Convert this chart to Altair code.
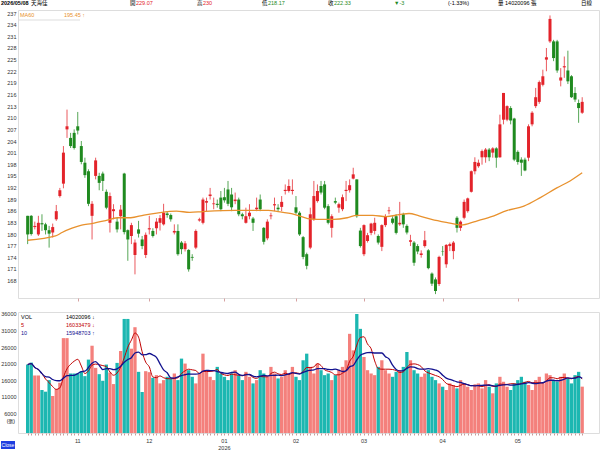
import altair as alt
import pandas as pd

FONT = "Liberation Sans, Noto Sans CJK TC"

opens = [184.7, 184.7, 181.8, 179.9, 182.8, 182.5, 181.0, 180.4, 183.8, 189.8,
         193.0, 207.0, 204.8, 206.1, 207.8, 202.7, 198.4, 196.2, 184.7, 195.0,
         195.0, 195.6, 190.9, 182.9, 185.9, 183.2, 184.6, 195.6, 181.0, 179.5,
         174.6, 181.2, 178.6, 174.6, 181.2, 180.8, 181.5, 182.9, 182.5, 185.3,
         184.9, 180.4, 180.8, 177.8, 176.1, 175.9, 174.1, 176.5, 183.5, 182.9,
         188.1, 189.8, 187.7, 187.8, 189.4, 189.5, 191.5, 190.2, 188.5, 188.9,
         185.1, 182.9, 184.6, 184.0, 186.4, 188.9, 181.6, 178.9, 184.6, 187.4,
         186.8, 187.0, 191.1, 191.1, 191.1, 186.9, 185.5, 179.2, 174.8, 176.5,
         183.8, 188.5, 192.4, 192.8, 187.2, 181.6, 188.5, 186.8, 186.4, 191.1,
         191.3, 194.3, 194.1, 180.9, 174.8, 178.2, 180.3, 180.8, 179.5, 176.7,
         182.3, 185.9, 184.0, 184.6, 182.5, 185.1, 182.1, 178.0, 177.8, 176.9,
         174.6, 176.9, 175.8, 169.8, 168.3, 167.1, 175.6, 172.2, 176.9, 175.6,
         184.2, 181.6, 184.2, 185.9, 190.9, 196.2, 197.5, 199.8, 199.8, 201.8,
         201.0, 202.1, 199.8, 209.5, 209.5, 212.5, 209.8, 201.2, 199.2, 199.2,
         199.7, 208.3, 213.0, 214.1, 218.5, 225.0, 229.7, 229.7, 229.7, 219.6,
         223.0, 222.2, 220.7, 216.4, 213.8, 211.3]
highs = [184.7, 184.9, 183.2, 184.7, 185.1, 182.9, 182.1, 182.7, 187.5, 191.9,
         202.7, 212.1, 206.1, 207.0, 211.5, 204.0, 199.7, 196.7, 188.5, 199.7,
         195.8, 196.1, 191.5, 190.7, 187.7, 184.2, 187.5, 195.8, 181.2, 182.9,
         178.6, 183.4, 179.5, 180.4, 184.7, 181.5, 184.1, 184.9, 187.8, 185.9,
         185.3, 182.5, 182.5, 178.2, 178.2, 176.1, 174.8, 181.2, 184.2, 189.4,
         189.4, 191.9, 189.4, 188.9, 191.1, 191.9, 193.7, 191.9, 190.7, 189.4,
         185.5, 186.8, 187.7, 184.4, 189.4, 190.2, 181.8, 183.8, 185.5, 189.4,
         187.7, 189.8, 192.8, 194.1, 194.1, 189.8, 185.9, 179.5, 175.2, 186.8,
         193.7, 192.8, 193.7, 193.7, 187.7, 185.1, 189.4, 188.1, 190.2, 193.7,
         194.1, 197.1, 194.1, 181.6, 182.5, 180.3, 182.9, 184.2, 179.9, 182.5,
         185.1, 187.0, 184.6, 185.1, 188.3, 185.5, 182.5, 179.8, 178.2, 177.4,
         175.8, 180.8, 176.1, 170.1, 168.8, 174.4, 176.9, 177.4, 177.8, 178.2,
         184.6, 183.5, 188.9, 189.4, 196.4, 199.8, 199.2, 201.8, 202.2, 202.2,
         202.4, 202.4, 210.8, 216.4, 213.2, 213.0, 210.0, 201.6, 199.8, 199.7,
         208.3, 211.7, 217.7, 219.6, 222.4, 228.0, 236.4, 230.1, 230.1, 222.8,
         225.8, 227.3, 221.0, 217.9, 214.7, 215.3]
lows = [177.4, 179.6, 181.2, 179.5, 180.8, 179.9, 176.5, 179.1, 183.4, 189.4,
        191.8, 204.8, 202.2, 201.8, 205.7, 198.0, 194.5, 187.2, 178.6, 194.1,
        191.3, 191.1, 186.4, 180.4, 183.8, 180.4, 181.2, 179.9, 173.1, 177.4,
        169.6, 179.1, 176.1, 173.8, 179.9, 179.1, 179.9, 180.9, 182.2, 184.2,
        183.2, 179.9, 174.4, 174.8, 175.5, 170.3, 173.1, 176.1, 183.2, 182.5,
        185.9, 188.9, 186.4, 186.8, 185.9, 188.1, 187.2, 185.9, 187.7, 184.6,
        183.8, 182.7, 183.8, 180.8, 185.9, 185.9, 177.3, 178.4, 183.8, 185.9,
        185.9, 185.9, 190.2, 190.7, 190.2, 185.1, 179.5, 173.5, 170.9, 176.1,
        183.4, 188.1, 190.2, 186.4, 182.5, 179.1, 187.7, 185.5, 185.9, 188.5,
        190.7, 194.1, 184.2, 176.5, 174.3, 177.8, 179.7, 179.9, 177.3, 175.6,
        181.8, 185.1, 182.5, 179.9, 182.1, 181.6, 179.9, 176.9, 171.8, 174.8,
        173.9, 176.5, 170.9, 166.6, 164.5, 166.6, 174.4, 171.3, 175.6, 173.5,
        180.4, 180.8, 183.8, 185.5, 190.7, 195.4, 197.1, 197.9, 198.4, 198.8,
        199.7, 197.1, 199.7, 208.3, 209.1, 208.3, 198.8, 197.9, 195.0, 196.2,
        198.8, 207.8, 212.5, 213.6, 218.1, 222.0, 229.3, 224.6, 221.6, 218.1,
        220.3, 218.7, 215.1, 214.1, 208.7, 211.0]
closes = [179.9, 180.0, 182.1, 182.9, 182.5, 181.0, 180.1, 181.8, 185.9, 191.3,
          201.0, 207.8, 202.7, 202.2, 206.7, 198.6, 195.2, 187.8, 187.8, 199.0,
          193.2, 193.7, 186.8, 189.8, 186.4, 181.2, 186.3, 180.5, 178.6, 182.3,
          177.8, 180.1, 176.9, 179.8, 181.5, 179.5, 183.2, 184.1, 185.5, 184.9,
          183.8, 180.8, 174.8, 176.1, 177.6, 170.9, 173.9, 180.8, 183.8, 188.9,
          188.5, 190.2, 187.9, 187.5, 186.4, 188.7, 187.8, 186.9, 188.9, 185.1,
          184.6, 184.6, 185.5, 182.9, 186.8, 186.4, 178.0, 183.2, 184.8, 187.7,
          186.4, 188.3, 191.4, 192.4, 191.4, 185.5, 179.9, 174.1, 171.8, 185.1,
          189.8, 191.1, 190.7, 186.8, 182.9, 184.6, 188.1, 187.7, 189.5, 191.4,
          192.6, 195.4, 184.6, 176.9, 182.3, 179.7, 182.7, 182.9, 177.8, 182.3,
          184.4, 186.1, 182.9, 180.3, 182.9, 182.5, 180.4, 178.4, 172.6, 175.5,
          175.0, 178.4, 171.2, 167.2, 165.3, 174.1, 175.5, 177.2, 177.4, 177.8,
          181.6, 183.2, 188.3, 189.2, 196.2, 198.6, 198.4, 201.4, 201.8, 199.8,
          202.1, 199.7, 208.3, 216.4, 213.0, 209.3, 199.2, 198.6, 198.4, 196.4,
          207.8, 211.3, 215.3, 219.2, 220.7, 225.6, 235.5, 225.4, 222.2, 220.4,
          223.3, 219.4, 215.3, 214.7, 212.5, 214.1]
volumes = [20700, 21300, 17400, 17400, 13000, 12500, 16000, 11200, 13300, 15200,
           28700, 28700, 18000, 18000, 18000, 18700, 17200, 22200, 26400, 19700,
           17800, 15800, 20700, 18300, 14800, 21200, 24800, 34500, 34500, 25500,
           32000, 18500, 12400, 18700, 18400, 16700, 17500, 15000, 16000, 17000,
           16500, 18000, 16000, 22500, 21000, 19000, 17000, 15000, 18000, 24000,
           19000, 17000, 16000, 20000, 18000, 17000, 16000, 18000, 19000, 17500,
           16000, 18500, 17000, 15000, 16000, 19000, 18000, 17000, 20000, 18000,
           16500, 17000, 19000, 18000, 20000, 17000, 16000, 22000, 24000, 20000,
           18000, 21000, 19000, 17500, 18000, 16000, 17500, 19000, 20000, 22000,
           30000, 25000, 36000, 31500, 23000, 19000, 18000, 17500, 20000, 22000,
           19000, 18000, 17000, 18500, 19000, 20000, 24500, 22000, 19000, 18000,
           17000, 18000, 19000, 17000, 16000, 15000, 14000, 13000, 15000, 14500,
           13500, 16000, 15000, 14000, 13000, 14500, 15000, 13500, 16000, 14000,
           12000, 15000, 17000, 15500, 14000, 13000, 15000, 16000, 17000, 15500,
           14500, 13000, 16000, 17000, 15000, 18000, 17500, 16000, 15500, 17000,
           18000, 16500, 15000, 17500, 18500, 14020]

ma60_idx = [1, 8.8, 10.6, 13.4, 16.1, 18.9, 22.5, 26.1, 29.8, 33.5, 37.1, 42.6, 46.3,
            50, 59, 68.3, 71, 75.5, 79.3, 82, 86.5, 90.3, 93, 97.5, 101.2, 104.9,
            107.6, 110.4, 113.9, 118.6, 122.2, 126, 130.4, 135.1, 139.7, 144.3,
            148.9, 152.6, 156]
ma60_val = [178.4, 179.5, 180.4, 181.5, 182.3, 182.7, 183.4, 184.2, 184.2, 184.9,
            185.4, 185.9, 185.6, 185.8, 186.1, 186.1, 185.8, 185.1, 184.0, 183.8,
            183.8, 184.2, 184.8, 184.8, 184.5, 185.0, 185.3, 184.7, 183.8, 182.9,
            182.3, 183.2, 184.4, 186.1, 187.2, 189.4, 191.9, 193.7, 195.8]

month_labels = ["11", "12", "01", "02", "03", "04", "05"]
month_idx = [15, 35, 56, 76, 95, 117, 138]
price_ticks = [168, 171, 174, 177, 180, 183, 186, 189, 192, 195, 198, 201, 204,
               207, 210, 213, 216, 219, 222, 225, 228, 231, 234, 237]
vol_ticks = [6000, 11000, 16000, 21000, 26000, 31000, 36000]

n = len(opens)
df = pd.DataFrame({
    "idx": list(range(1, n + 1)),
    "open": opens, "high": highs, "low": lows, "close": closes,
    "volume": volumes,
})
df["dir"] = ["up" if c >= o else "down" for o, c in zip(opens, closes)]
df["vdir"] = ["vup" if c >= o else "vdown" for o, c in zip(opens, closes)]
ma_df = pd.DataFrame({"idx": ma60_idx, "ma": ma60_val})
month_df = pd.DataFrame({"idx": month_idx, "label": month_labels})

RED, GREEN = "#E3232A", "#1F8A1F"
VRED, VCYAN = "#F4807C", "#1CB7B1"
W, H1, H2 = 581, 288, 121
FRAME = "#D6A2A2"

xscale = alt.Scale(domain=[-0.3, 159.3], nice=False, zero=False)
pscale = alt.Scale(domain=[163.5, 237.8], nice=False, zero=False)
vscale = alt.Scale(domain=[0, 36600], nice=False, zero=False)
col = alt.Color("dir:N", scale=alt.Scale(domain=["up", "down"], range=[RED, GREEN]), legend=None)
vcol = alt.Color("vdir:N", scale=alt.Scale(domain=["vup", "vdown"], range=[VRED, VCYAN]), legend=None)

XAX_TOP = alt.Axis(values=month_idx, labels=False, tickSize=3, domain=False,
                   grid=False, tickColor=FRAME, title=None)
XAX_BOT = alt.Axis(values=list(range(1, n + 1)), labels=False, tickSize=2,
                   domain=False, grid=False, tickColor="#C99A9A", title=None)
YAX_P = alt.Axis(values=price_ticks, grid=False, domain=False, ticks=False,
                 labelFontSize=5.5, labelPadding=2, labelColor="#333333",
                 labelFont=FONT, labelOverlap=False, format="d", title=None)
YAX_V = alt.Axis(values=vol_ticks, grid=False, domain=False, ticks=False,
                 labelFontSize=5.5, labelPadding=2, labelColor="#333333",
                 labelFont=FONT, labelOverlap=False, format="d", title=None)


def xt(field="idx:Q"):
    return alt.X(field, scale=xscale, axis=XAX_TOP, title=None)


def xb(field="idx:Q"):
    return alt.X(field, scale=xscale, axis=XAX_BOT, title=None)


def yp(field):
    return alt.Y(field, scale=pscale, axis=YAX_P, title=None)


def yv(field):
    return alt.Y(field, scale=vscale, axis=YAX_V, title=None)


def txt(s, x, y, color="#000000", align="left", size=5.5, weight="normal"):
    return alt.Chart(alt.Data(values=[{"t": s}])).mark_text(
        align=align, baseline="middle", fontSize=size, color=color,
        fontWeight=weight, font=FONT
    ).encode(x=alt.value(x), y=alt.value(y), text="t:N")


base = alt.Chart(df)
wicks = base.mark_rule(strokeWidth=1, opacity=0.75).encode(
    x=xt(), y=yp("low:Q"), y2="high:Q", color=col)
bodies = base.mark_bar(size=3).encode(x=xt(), y=yp("open:Q"), y2="close:Q", color=col)
ma_line = alt.Chart(ma_df).mark_line(color="#E8912D", strokeWidth=1.3,
                                     interpolate="monotone").encode(x=xt(), y=yp("ma:Q"))

hy = -7
header = [
    txt("2026/05/08", -17, hy, weight="bold"),
    txt("天海佳", 13, hy),
    txt("開", 112, hy), txt("229.07", 118, hy, color=RED),
    txt("高", 179, hy), txt("230", 185, hy, color=RED),
    txt("低", 244, hy), txt("218.17", 250, hy, color=GREEN),
    txt("收", 310, hy), txt("222.33", 316, hy, color=GREEN),
    txt("▼-3", 376, hy, color=GREEN),
    txt("(-1.33%)", 430, hy),
    txt("量 14020096 張", 480, hy),
    txt("日線", 563, hy),
]
legend_top = [
    txt("MA60", 2, 5, color="#E8912D"),
    txt("195.45 ↑", 46, 5, color="#E8912D"),
    alt.Chart(alt.Data(values=[{}])).mark_rule(color="#dddddd").encode(
        x=alt.value(0), x2=alt.value(62), y=alt.value(10)),
]
top = alt.layer(wicks, bodies, ma_line, *legend_top, *header).properties(width=W, height=H1)

vbars = base.mark_bar(size=3.3).encode(x=xb(), y=yv("volume:Q"), color=vcol)
ma5 = base.transform_window(m="mean(volume)", frame=[-4, 0], sort=[{"field": "idx"}]).mark_line(
    color="#C00000", strokeWidth=1, interpolate="monotone").encode(x=xb(), y=yv("m:Q"))
ma10 = base.transform_window(m="mean(volume)", frame=[-9, 0], sort=[{"field": "idx"}]).mark_line(
    color="#12128F", strokeWidth=1.3, interpolate="monotone").encode(x=xb(), y=yv("m:Q"))
mlabels = alt.Chart(month_df).mark_text(fontSize=5.5, font=FONT, color="#333333",
                                        baseline="middle").encode(
    x=xb(), y=alt.value(H2 + 8), text="label:N")
year = alt.Chart(alt.Data(values=[{"idx": 56, "t": "2026"}])).mark_text(
    fontSize=5.5, font=FONT, color="#333333", baseline="middle").encode(
    x=xb(), y=alt.value(H2 + 15), text="t:N")
legend_bot = [
    txt("VOL", 3, 5), txt("14020096 ↓", 48, 5),
    txt("5", 3, 13, color="#C00000"), txt("16033479 ↓", 48, 13, color="#C00000"),
    txt("10", 3, 21, color="#12128F"), txt("15948703 ↑", 48, 21, color="#12128F"),
    txt("(張)", -3, 109, align="right", size=5),
]
button = [
    alt.Chart(alt.Data(values=[{}])).mark_rect(color="#1E3FE0").encode(
        x=alt.value(-17), x2=alt.value(-3), y=alt.value(129), y2=alt.value(137)),
    txt("Close", -10, 133, color="#ffffff", align="center", size=5),
]
bottom = alt.layer(vbars, ma5, ma10, mlabels, year, *legend_bot, *button).properties(
    width=W, height=H2)

chart = alt.vconcat(top, bottom, spacing=9, padding=0).resolve_scale(
    color="independent").configure_view(
    stroke=FRAME, strokeWidth=1).configure_axis(labelOverlap=False).configure(
    background="white")
chart.save("out.html", embed_options={"renderer": "svg", "actions": False})
